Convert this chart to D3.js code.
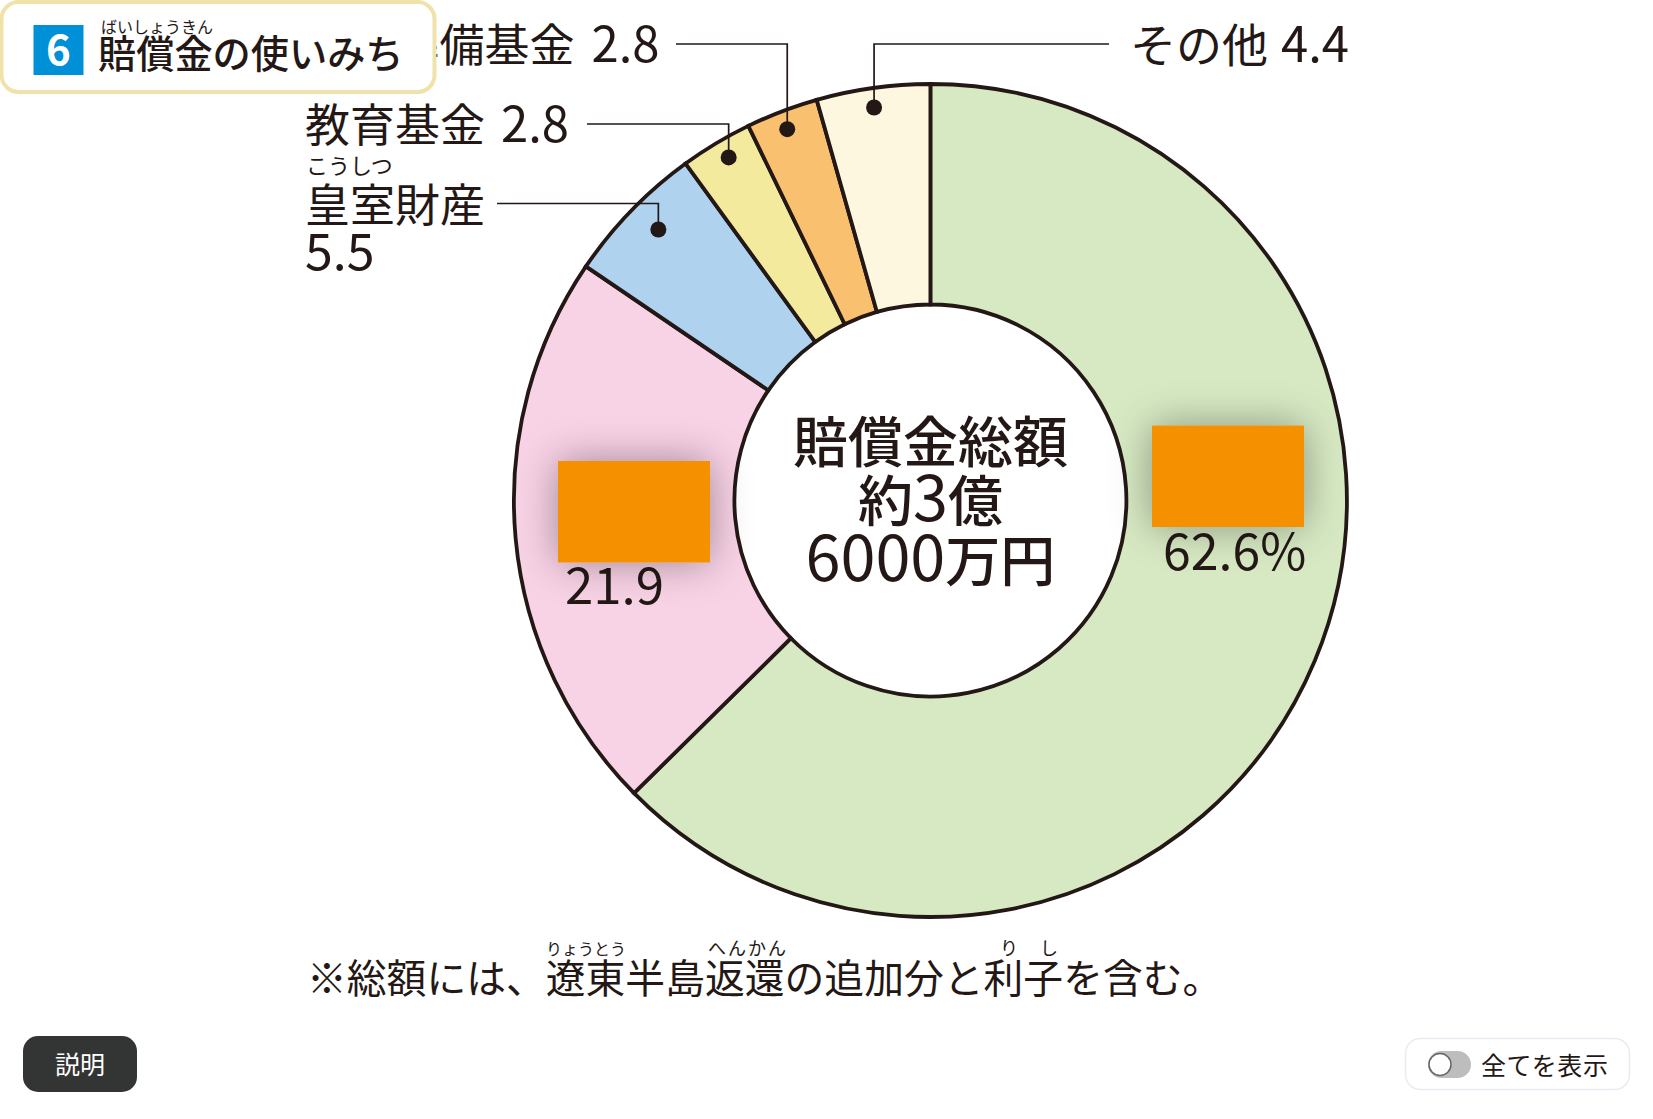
<!DOCTYPE html>
<html>
<head>
<meta charset="utf-8">
<script src="https://cdn.jsdelivr.net/npm/d3@7"></script>
<style>
  html, body { margin: 0; padding: 0; background: #fff; }
  svg { display: block; }
  text { font-family: "Noto Sans CJK JP", sans-serif; fill: #231815; }
</style>
</head>
<body>
<svg id="chart" width="1653" height="1119"></svg>
<script>
// clockwise from 12 o'clock
var categories = ["軍備拡張費", "臨時軍事費", "皇室財産", "教育基金", "災害準備基金", "その他"];
var shares = [62.6, 21.9, 5.5, 2.8, 2.8, 4.4];
var colors = ["#d7e9c3", "#f8d2e5", "#afd2ef", "#f3ea9e", "#f9c16f", "#fef7e0"];
var centerLines = ["賠償金総額", "約3億", "6000万円"];
var footnote = "※総額には、遼東半島返還の追加分と利子を含む。";

var width = 1653, height = 1119;
var cx = 930.4, cy = 500.5, outerR = 416.5, innerR = 196;
var ink = "#231815";

var svg = d3.select("#chart");

var defs = svg.append("defs");
defs.append("filter").attr("id", "cover-shadow")
    .attr("x", "-60%").attr("y", "-80%").attr("width", "220%").attr("height", "260%")
  .append("feDropShadow")
    .attr("dx", 0).attr("dy", 0).attr("stdDeviation", 20)
    .attr("flood-color", "#000").attr("flood-opacity", 0.36);

var pie = d3.pie().sort(null).value(function(d) { return d; });
var arc = d3.arc().innerRadius(innerR).outerRadius(outerR);
var slices = pie(shares);

var donut = svg.append("g").attr("transform", "translate(" + cx + "," + cy + ")");

donut.selectAll("path.slice")
    .data(slices)
  .enter().append("path")
    .attr("class", "slice")
    .attr("d", arc)
    .attr("fill", function(d, i) { return colors[i]; })
    .attr("stroke", ink)
    .attr("stroke-width", 3.8)
    .attr("stroke-linejoin", "miter");

// leader lines: elbow from the label down to a dot inside the slice
// "at" is how far across the slice the dot sits
var leaders = [
  { slice: 2, at: 0.54, r: 384, y: 203.5, x: 497 },
  { slice: 3, at: 0.55, r: 398, y: 124, x: 587 },
  { slice: 4, at: 0.48, r: 398, y: 44, x: 676 },
  { slice: 5, at: 0.485, r: 397, y: 44, x: 1109 }
];

leaders.forEach(function(l) {
  var s = slices[l.slice];
  var p = d3.pointRadial(s.startAngle + (s.endAngle - s.startAngle) * l.at, l.r);
  var dotX = cx + p[0], dotY = cy + p[1];
  svg.append("path")
      .attr("d", d3.line()([[l.x, l.y], [dotX, l.y], [dotX, dotY]]))
      .attr("fill", "none")
      .attr("stroke", ink)
      .attr("stroke-width", 1.7);
  svg.append("circle")
      .attr("cx", dotX).attr("cy", dotY).attr("r", 8)
      .attr("fill", ink);
});

// kanji and digits are set at slightly different sizes in the original
function label(x, y, parts, anchor) {
  var t = svg.append("text").attr("x", x).attr("y", y).attr("text-anchor", anchor || "start");
  parts.forEach(function(p) {
    var span = t.append("tspan").attr("font-size", p[1]).text(p[0]);
    if (p[2]) span.attr("dx", p[2]);
    if (p[3]) span.attr("font-weight", p[3]);
  });
  return t;
}

label(1130, 62, [["その他", 46], [shares[5].toFixed(1), 49, 13]]);
label(659.5, 62, [[categories[4], 45], [shares[4].toFixed(1), 49, 17]], "end");
label(305, 142, [[categories[3], 45], [shares[3].toFixed(1), 49, 16]]);
label(305, 222, [[categories[2], 45]]);
label(305, 270, [[shares[2].toFixed(1), 50]]);
label(306, 174, [["こうしつ", 22]]);
label(565, 604, [[shares[1].toFixed(1), 51]]);
label(1163, 570, [[shares[0].toFixed(1) + "%", 50]]);

// the two biggest category names are masked in the source picture
svg.selectAll("rect.cover")
    .data([[558, 461], [1152, 425.5]])
  .enter().append("rect")
    .attr("class", "cover")
    .attr("x", function(d) { return d[0]; })
    .attr("y", function(d) { return d[1]; })
    .attr("width", 152)
    .attr("height", 101.5)
    .attr("fill", "#f59000")
    .attr("filter", "url(#cover-shadow)");

// center of the ring
label(cx, 462, [[centerLines[0], 55, 0, 500]], "middle");
label(cx, 521, [["約", 55, 0, 500], ["3", 63], ["億", 55, 0, 500]], "middle");
label(cx, 581, [["6000", 63], ["万円", 55, 0, 500]], "middle");

// title box
svg.append("rect")
    .attr("x", 1.5).attr("y", 2).attr("width", 433).attr("height", 90).attr("rx", 17)
    .attr("fill", "#fff").attr("stroke", "#f0e2ab").attr("stroke-width", 4);
svg.append("rect")
    .attr("x", 33.5).attr("y", 25).attr("width", 50).attr("height", 50)
    .attr("fill", "#0090d7");
svg.append("text")
    .attr("x", 58.5).attr("y", 65).attr("text-anchor", "middle")
    .attr("font-size", 42).attr("font-weight", 700)
    .style("fill", "#fff").text("6");
svg.append("text")
    .attr("x", 98).attr("y", 67.5).attr("font-size", 38.2).attr("font-weight", 500)
    .text("賠償金の使いみち");
svg.append("text")
    .attr("x", 101).attr("y", 32.5).attr("font-size", 16).text("ばいしょうきん");

// footnote and its furigana
svg.append("text")
    .attr("x", 307).attr("y", 993).attr("font-size", 39.8).text(footnote);
[["りょうとう", 546, 16, 0], ["へんかん", 708, 18, 2], ["り", 1000, 18, 0], ["し", 1040, 18, 0]].forEach(function(r) {
  svg.append("text")
      .attr("x", r[1]).attr("y", 955).attr("font-size", r[2]).attr("letter-spacing", r[3]).text(r[0]);
});

// page controls
svg.append("rect")
    .attr("x", 23).attr("y", 1036).attr("width", 114).attr("height", 56).attr("rx", 15)
    .attr("fill", "#333534");
svg.append("text")
    .attr("x", 80).attr("y", 1074).attr("text-anchor", "middle").attr("font-size", 25)
    .style("fill", "#fff").text("説明");

svg.append("rect")
    .attr("x", 1405.5).attr("y", 1038.5).attr("width", 224).attr("height", 51).attr("rx", 15)
    .attr("fill", "#fff").attr("stroke", "#e8ecf2").attr("stroke-width", 1.5);
svg.append("rect")
    .attr("x", 1428).attr("y", 1051).attr("width", 43).attr("height", 27).attr("rx", 13.5)
    .attr("fill", "#bdbdbd");
svg.append("circle")
    .attr("cx", 1440).attr("cy", 1064.5).attr("r", 11)
    .attr("fill", "#fff").attr("stroke", "#666").attr("stroke-width", 1.5);
svg.append("text")
    .attr("x", 1481).attr("y", 1075).attr("font-size", 25).attr("letter-spacing", 0.6)
    .text("全てを表示");
</script>
</body>
</html>
